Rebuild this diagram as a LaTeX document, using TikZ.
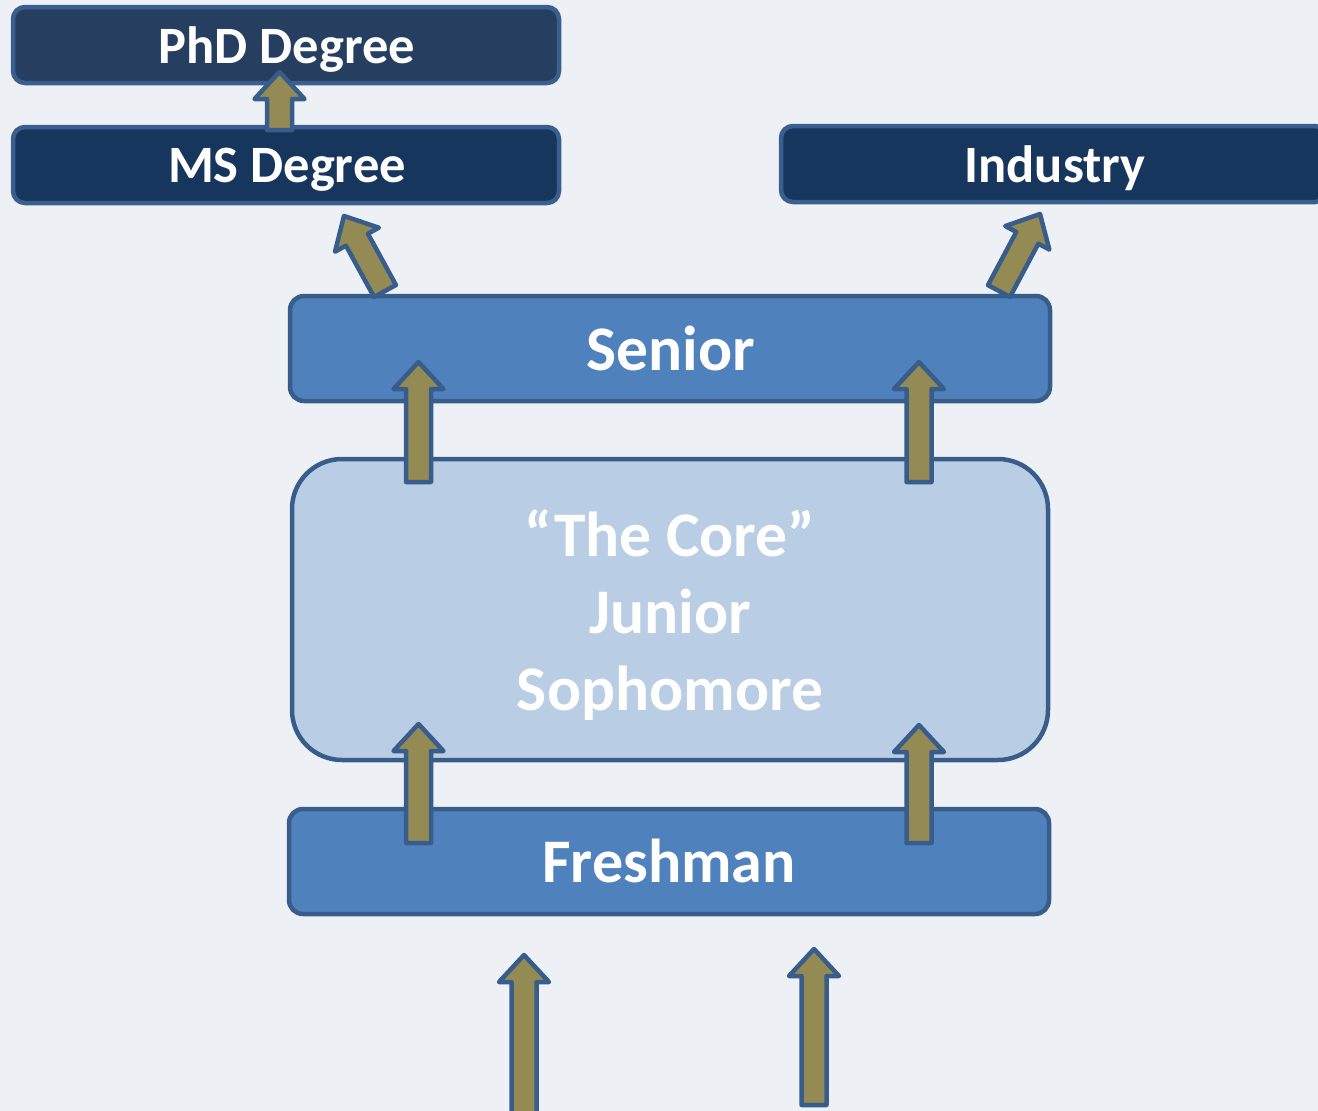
\documentclass[tikz,border=0pt]{standalone}
\usepackage{fontspec}
\setmainfont{Carlito}
\usetikzlibrary{calc}
\definecolor{bg}{HTML}{EDF1F6}
\definecolor{navyA}{HTML}{263F61}
\definecolor{navyB}{HTML}{17365D}
\definecolor{navyEdge}{HTML}{3A5F8E}
\definecolor{midblue}{HTML}{4F81BD}
\definecolor{edgeblue}{HTML}{385D8A}
\definecolor{paleblue}{HTML}{B9CDE5}
\definecolor{olive}{HTML}{948A54}
\tikzset{
  box/.style={draw=edgeblue, line width=4.5pt, rounded corners=14pt, inner sep=0pt, fill=midblue},
  darkbox/.style={box, draw=navyEdge, fill=navyB, rounded corners=12pt, minimum width=546pt, minimum height=76pt},
  txt/.style={text=white, font=\bfseries, inner sep=0pt},
  barrow/.style={fill=olive, draw=edgeblue, line width=4.5pt, line join=round},
}
\newcommand\blockarrow[2]{%
  \coordinate (baH) at ($(#2)!27pt!(#1)$);
  \draw[barrow] ($(#1)!12.5pt!90:(#2)$) -- ($(baH)!12.5pt!90:(#2)$) -- ($(baH)!25pt!90:(#2)$) -- (#2)
    -- ($(baH)!25pt!-90:(#2)$) -- ($(baH)!12.5pt!-90:(#2)$) -- ($(#1)!12.5pt!-90:(#2)$) -- cycle;}
\begin{document}
\begin{tikzpicture}[x=1pt,y=-1pt]
\useasboundingbox (0,0) rectangle (1318,1111);
\clip (0,0) rectangle (1318,1111);
\fill[bg] (0,0) rectangle (1318,1111);

% boxes
\node[darkbox, fill=navyA] (phd) at (286,45) {};
\node[darkbox] (ms) at (286,165) {};
\node[darkbox] (ind) at (1054,164) {};
\node[box, minimum width=760pt, minimum height=105pt] (senior) at (670,348.5) {};
\node[box, fill=paleblue, rounded corners=50pt, minimum width=756pt, minimum height=301pt] (core) at (670,609.5) {};
\node[box, minimum width=760pt, minimum height=105pt] (fresh) at (669,861.5) {};

% texts
\node[txt, anchor=base, font=\bfseries\fontsize{52.5}{60}\selectfont] (phdT) at (287,63) {PhD Degree};
\node[txt, anchor=base, font=\bfseries\fontsize{52.5}{60}\selectfont] (msT) at (287,182) {MS Degree};
\node[txt, anchor=base, font=\bfseries\fontsize{52.5}{60}\selectfont] (indT) at (1055,182) {Industry};
\node[txt, anchor=base, font=\bfseries\fontsize{63.5}{74}\selectfont] (seniorT) at (671,370) {Senior};
\node[txt, align=center, font=\bfseries\fontsize{63.5}{77}\selectfont] (coreT) at (670,615) {“The Core”\\Junior\\Sophomore};
\node[txt, anchor=base, font=\bfseries\fontsize{62}{72}\selectfont] (freshT) at (669,882) {Freshman};

% arrow end points
\coordinate (a1t) at (279.5,130); \coordinate (a1h) at (279.5,72);
\coordinate (a2t) at (385,291);   \coordinate (a2h) at (344,216);
\coordinate (a3t) at (999,291);   \coordinate (a3h) at (1040,214);
\coordinate (a4t) at (418.5,482); \coordinate (a4h) at (418.5,362);
\coordinate (a5t) at (919,482);   \coordinate (a5h) at (919,362);
\coordinate (a6t) at (418.5,843); \coordinate (a6h) at (418.5,724);
\coordinate (a7t) at (919,843);   \coordinate (a7h) at (919,725);
\coordinate (a8t) at (524,1125);  \coordinate (a8h) at (524,955);
\coordinate (a9t) at (814,1105);  \coordinate (a9h) at (814,949);

\blockarrow{a1t}{a1h}
\blockarrow{a2t}{a2h}
\blockarrow{a3t}{a3h}
\blockarrow{a4t}{a4h}
\blockarrow{a5t}{a5h}
\blockarrow{a6t}{a6h}
\blockarrow{a7t}{a7h}
\blockarrow{a8t}{a8h}
\blockarrow{a9t}{a9h}
\end{tikzpicture}
\end{document}
